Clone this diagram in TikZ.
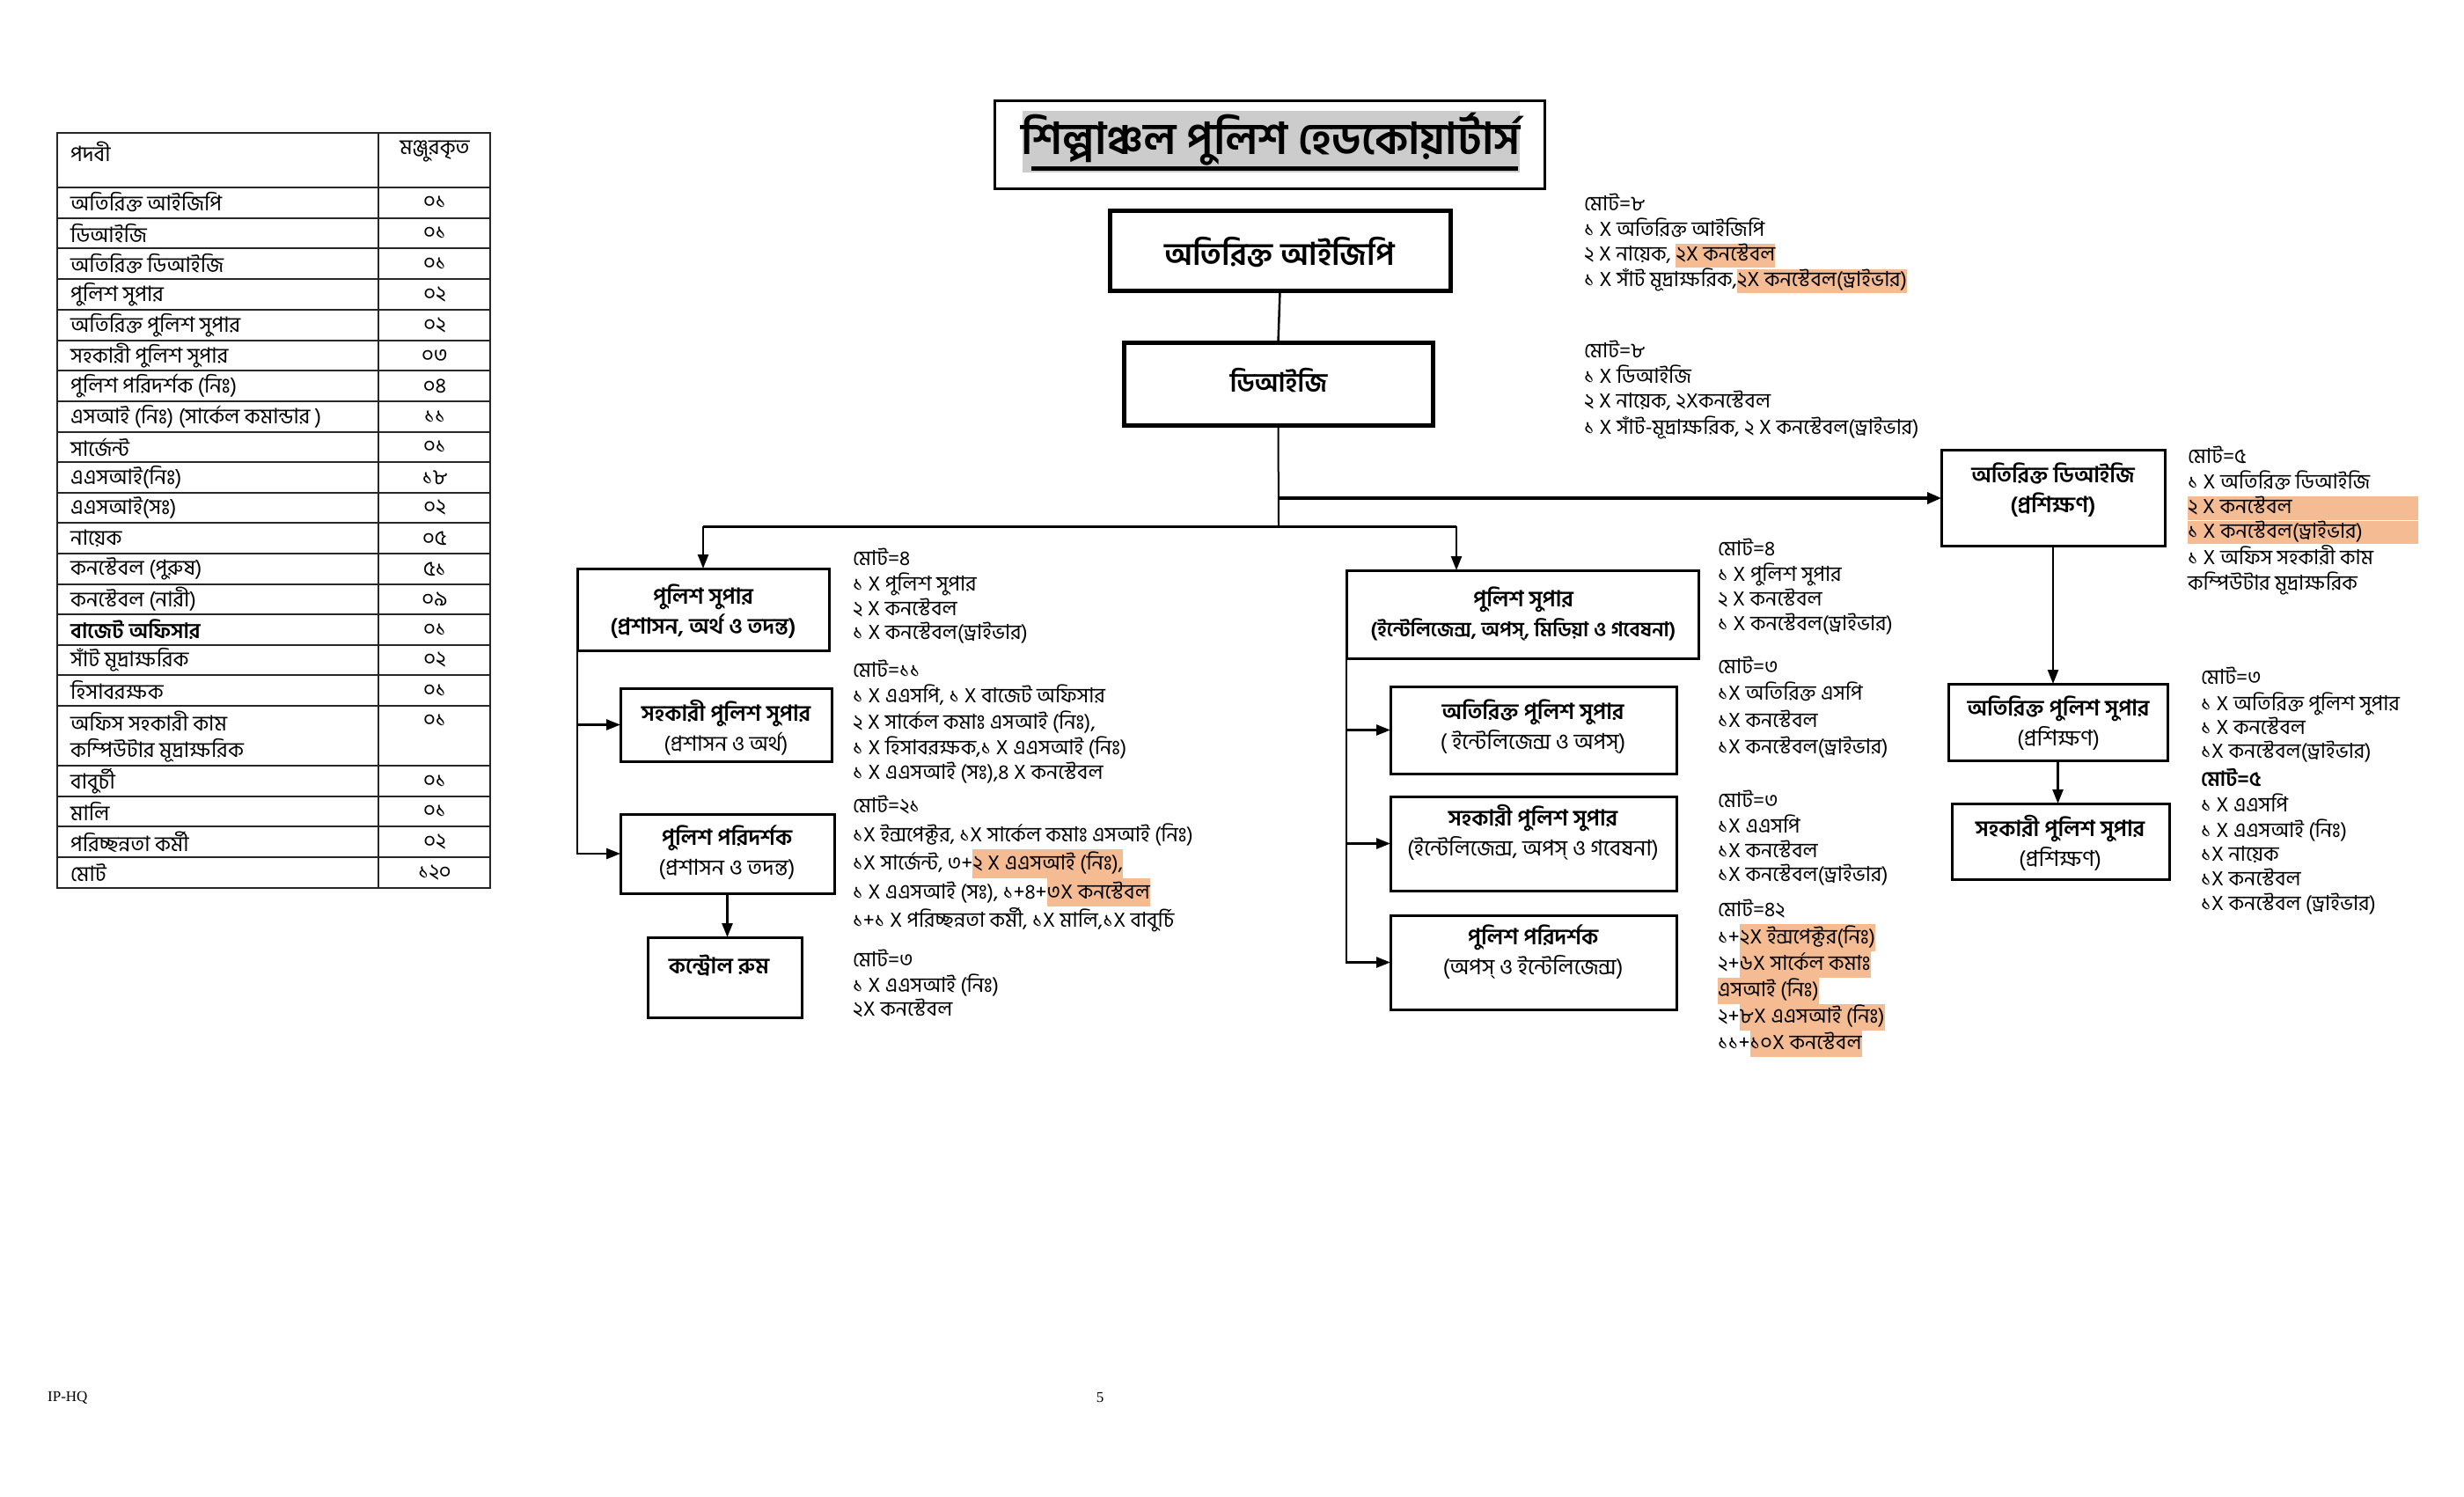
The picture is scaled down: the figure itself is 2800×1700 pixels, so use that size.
\documentclass[tikz,border=0pt]{standalone}
\usepackage{fontspec}
\setmainfont{Liberation Serif}
\newfontfamily\bn[Script=Bengali]{Hind Siliguri}
\usetikzlibrary{arrows.meta}
\definecolor{hl}{HTML}{F5BC94}
\definecolor{tgray}{HTML}{CCCCCC}
\newcommand\nst{\rule[-0.28\baselineskip]{0pt}{\baselineskip}}
\newcommand\hlt[1]{{\setlength{\fboxsep}{0pt}\colorbox{hl}{\nst#1}}}
\newcommand\hlw[2]{{\setlength{\fboxsep}{0pt}\colorbox{hl}{\makebox[#1][l]{\nst#2}}}}
\begin{document}
\begin{tikzpicture}[x=1pt,y=-1pt,
 tline/.style={draw=black!85, line width=2pt},
 bx/.style={draw, line width=3pt, inner sep=0pt, outer sep=0pt},
 bxk/.style={draw, line width=5pt, inner sep=0pt, outer sep=0pt},
 bt/.style={font=\bn\fontsize{25}{34}\selectfont, align=center, inner sep=0pt},
 tc/.style={font=\bn\fontsize{24}{28}\selectfont, inner sep=0pt},
 note/.style={anchor=north west, inner sep=0pt, align=left, font=\bn\fontsize{23.5}{#1}\selectfont},
 cn/.style={line width=2.5pt},
 ar/.style={line width=2.5pt, -{Triangle[length=16pt,width=12pt]}},
]
\fill[white] (0,0) rectangle (2800,1700);
\useasboundingbox (0,0) rectangle (2800,1700);

% ---------- table ----------
\draw[tline] (65,151) rectangle (557,1009);
\draw[tline] (430,151) -- (430,1009);
\foreach \y in {213,247.5,282,317,352,387,421,456,491,525,560,594,629,664,698,733,767,802,870,905,939,974}
  \draw[tline] (65,\y) -- (557,\y);
\node[tc, anchor=west] (th1) at (80,172) {পদবী};
\node[tc] (th2) at (494,172) {মঞ্জুরকৃত};
\foreach \t/\n/\y [count=\i] in {
 অতিরিক্ত আইজিপি/০১/230, ডিআইজি/০১/265, অতিরিক্ত ডিআইজি/০১/299.5,
 পুলিশ সুপার/০২/334.5, অতিরিক্ত পুলিশ সুপার/০২/369.5, সহকারী পুলিশ সুপার/০৩/404,
 পুলিশ পরিদর্শক (নিঃ)/০৪/438.5, এসআই (নিঃ) (সার্কেল কমান্ডার )/১১/473.5,
 সার্জেন্ট/০১/508, এএসআই(নিঃ)/১৮/542.5, এএসআই(সঃ)/০২/577, নায়েক/০৫/611.5,
 কনস্টেবল (পুরুষ)/৫১/646.5, কনস্টেবল (নারী)/০৯/681, {\bfseries বাজেট অফিসার}/০১/715.5,
 সাঁট মূদ্রাক্ষরিক/০২/750, হিসাবরক্ষক/০১/784.5, বাবুর্চী/০১/887.5, মালি/০১/922,
 পরিচ্ছন্নতা কর্মী/০২/956.5, মোট/১২০/991.5}{
  \node[tc, anchor=west] (tl\i) at (80,\y) {\t};
  \node[tc] (tn\i) at (494,\y) {\n};
}
\node[tc, anchor=west] (tlo1) at (80,819) {অফিস সহকারী কাম};
\node[tc, anchor=west] (tlo2) at (80,853) {কম্পিউটার মূদ্রাক্ষরিক};
\node[tc] (tno) at (494,819) {০১};

% ---------- title ----------
\node[bx, minimum width=625, minimum height=100] (ttl) at (1442.5,164) {};
\fill[tgray] (1162,126) rectangle (1727,196);
\node[font=\bn\bfseries\fontsize{50}{54}\selectfont, inner sep=0pt] (ttlt) at (1444,158) {শিল্পাঞ্চল পুলিশ হেডকোয়ার্টার্স};
\draw[line width=5pt] (1172,191) -- (1725,191);

% ---------- boxes ----------
\node[bxk, minimum width=387, minimum height=91] (aigp) at (1454.5,284.5) {};
\node[bt, font=\bn\bfseries\fontsize{35.5}{40}\selectfont] (aigpt) at (1454,287) {অতিরিক্ত আইজিপি};
\node[bxk, minimum width=351, minimum height=94] (dig) at (1452.5,436) {};
\node[bt, font=\bn\bfseries\fontsize{30}{36}\selectfont] (digt) at (1453,432) {ডিআইজি};

\node[bx, minimum width=254, minimum height=109] (adig) at (2333,565.5) {};
\node[bt] (adigt) at (2333,557) {{\bfseries অতিরিক্ত ডিআইজি}\\{\bfseries (প্রশিক্ষণ)}};
\node[bx, minimum width=249, minimum height=87] (apst) at (2338.5,820.5) {};
\node[bt] (apstt) at (2339,822) {{\bfseries অতিরিক্ত পুলিশ সুপার}\\(প্রশিক্ষণ)};
\node[bx, minimum width=247, minimum height=86] (aspt) at (2341.5,956) {};
\node[bt] (asptt) at (2341,958) {{\bfseries সহকারী পুলিশ সুপার}\\(প্রশিক্ষণ)};

\node[bx, minimum width=286, minimum height=93] (ps1) at (799,692.5) {};
\node[bt] (ps1t) at (799,695) {{\bfseries পুলিশ সুপার}\\{\bfseries (প্রশাসন, অর্থ ও তদন্ত)}};
\node[bx, minimum width=240, minimum height=83] (asp1) at (825,823.5) {};
\node[bt] (asp1t) at (825,827) {{\bfseries সহকারী পুলিশ সুপার}\\{\fontsize{24}{30}\selectfont (প্রশাসন ও অর্থ)}};
\node[bx, minimum width=243, minimum height=90] (pi1) at (826.5,970) {};
\node[bt] (pi1t) at (826,969) {{\bfseries পুলিশ পরিদর্শক}\\(প্রশাসন ও তদন্ত)};
\node[bx, minimum width=175, minimum height=91] (cr) at (823.5,1110.5) {};
\node[bt] (crt) at (817,1097) {{\bfseries কন্ট্রোল রুম}};

\node[bx, minimum width=400, minimum height=100] (ps2) at (1730,698) {};
\node[bt] (ps2t) at (1731,697) {{\bfseries পুলিশ সুপার}\\{\bfseries\fontsize{23}{34}\selectfont (ইন্টেলিজেন্স, অপস্, মিডিয়া ও গবেষনা)}};
\node[bx, minimum width=325, minimum height=99] (aps2) at (1742.5,829.5) {};
\node[bt] (aps2t) at (1742,826) {{\bfseries অতিরিক্ত পুলিশ সুপার}\\( ইন্টেলিজেন্স ও অপস্)};
\node[bx, minimum width=325, minimum height=107] (asp2) at (1742.5,958.5) {};
\node[bt] (asp2t) at (1742,946) {{\bfseries সহকারী পুলিশ সুপার}\\(ইন্টেলিজেন্স, অপস্ ও গবেষনা)};
\node[bx, minimum width=325, minimum height=107] (pi2) at (1742.5,1093.5) {};
\node[bt] (pi2t) at (1742,1082) {{\bfseries পুলিশ পরিদর্শক}\\(অপস্ ও ইন্টেলিজেন্স)};

% ---------- connectors ----------
\coordinate (jA) at (1453,566);
\coordinate (jB) at (1453,598);
\coordinate (jL) at (799,598);
\coordinate (jR) at (1655,598);
\draw[cn] (aigp.south) -- (dig.north);
\draw[line width=2pt] (dig.south) -- (jB);
\draw[line width=3.5pt, -{Triangle[length=16pt,width=13pt]}] (jA) -- (jA -| adig.west);
\draw[line width=3pt] (jL) -- (jR);
\draw[ar] (jL) -- (ps1.north);
\draw[ar] (jR) -- (jR |- ps2.north);
\draw[ar] (ps1.south west) |- (pi1.west);
\draw[ar] (ps1.south west |- asp1.west) -- (asp1.west);
\draw[ar] (pi1.south) -- (pi1.south |- cr.north);
\draw[ar] (ps2.south west) |- (pi2.west);
\draw[ar] (ps2.south west |- aps2.west) -- (aps2.west);
\draw[ar] (ps2.south west |- asp2.west) -- (asp2.west);
\draw[ar] (adig.south) -- (adig.south |- apst.north);
\draw[ar] (apst.south) -- (apst.south |- aspt.north);

% ---------- notes ----------
\node[note=26] (n1) at (1800,220) {\nst মোট=৮\\\nst ১ X অতিরিক্ত আইজিপি\\\nst ২ X নায়েক, \hlt{২X কনস্টেবল}\\\nst ১ X সাঁট মূদ্রাক্ষরিক,\hlt{২X কনস্টেবল(ড্রাইভার)}};
\node[note=27] (n2) at (1800,387) {\nst মোট=৮\\\nst ১ X ডিআইজি\\\nst ২ X নায়েক, ২Xকনস্টেবল\\\nst ১ X সাঁট-মূদ্রাক্ষরিক, ২ X কনস্টেবল(ড্রাইভার)};
\node[note=26] (n3) at (2486,507) {\nst মোট=৫\\\nst ১ X অতিরিক্ত ডিআইজি\\\hlw{262pt}{২ X কনস্টেবল}\\\hlw{262pt}{১ X কনস্টেবল(ড্রাইভার)}\\\nst ১ X অফিস সহকারী কাম\\\nst কম্পিউটার মূদ্রাক্ষরিক};
\node[note=27.7] (n4) at (969,622) {\nst মোট=৪\\\nst ১ X পুলিশ সুপার\\\nst ২ X কনস্টেবল\\\nst ১ X কনস্টেবল(ড্রাইভার)};
\node[note=28] (n5) at (969,749) {\nst মোট=১১\\\nst ১ X এএসপি, ১ X বাজেট অফিসার\\\nst ২ X সার্কেল কমাঃ এসআই (নিঃ),\\\nst ১ X হিসাবরক্ষক,১ X এএসআই (নিঃ)\\\nst ১ X এএসআই (সঃ),৪ X কনস্টেবল};
\node[note=32.5] (n6) at (969,900) {\nst মোট=২১\\\nst ১X ইন্সপেক্টর, ১X সার্কেল কমাঃ এসআই (নিঃ)\\\nst ১X সার্জেন্ট, ৩+\hlt{২ X এএসআই (নিঃ),}\\\nst ১ X এএসআই (সঃ), ১+৪+\hlt{৩X কনস্টেবল}\\\nst ১+১ X পরিচ্ছন্নতা কর্মী, ১X মালি,১X বাবুর্চি};
\node[note=27.5] (n7) at (969,1078) {\nst মোট=৩\\\nst ১ X এএসআই (নিঃ)\\\nst ২X কনস্টেবল};
\node[note=27] (n8) at (1952,612) {\nst মোট=৪\\\nst ১ X পুলিশ সুপার\\\nst ২ X কনস্টেবল\\\nst ১ X কনস্টেবল(ড্রাইভার)};
\node[note=30.5] (n9) at (1952,743) {\nst মোট=৩\\\nst ১X অতিরিক্ত এসপি\\\nst ১X কনস্টেবল\\\nst ১X কনস্টেবল(ড্রাইভার)};
\node[note=27.7] (n10) at (1952,897) {\nst মোট=৩\\\nst ১X এএসপি\\\nst ১X কনস্টেবল\\\nst ১X কনস্টেবল(ড্রাইভার)};
\node[note=30.2] (n11) at (1952,1020) {\nst মোট=৪২\\\nst ১+\hlt{২X ইন্সপেক্টর(নিঃ)}\\\nst ২+\hlt{৬X সার্কেল কমাঃ}\\\hlt{এসআই (নিঃ)}\\\nst ২+\hlt{৮X এএসআই (নিঃ)}\\\nst ১১+\hlt{১০X কনস্টেবল}};
\node[note=27.3] (n12) at (2501,758) {\nst মোট=৩\\\nst ১ X অতিরিক্ত পুলিশ সুপার\\\nst ১ X কনস্টেবল\\\nst ১X কনস্টেবল(ড্রাইভার)};
\node[note=26.8] (n13) at (2501,873) {\nst {\bfseries মোট=৫}\\\nst ১ X এএসপি\\\nst ১ X এএসআই (নিঃ)\\\nst ১X নায়েক\\\nst ১X কনস্টেবল\\\nst ১X কনস্টেবল (ড্রাইভার)};

% ---------- footer ----------
\node[font=\fontsize{17}{20}\selectfont, inner sep=0pt, anchor=west] (ftl) at (54,1588) {IP-HQ};
\node[font=\fontsize{17}{20}\selectfont, inner sep=0pt] (ftp) at (1250,1588) {5};
\end{tikzpicture}
\end{document}
